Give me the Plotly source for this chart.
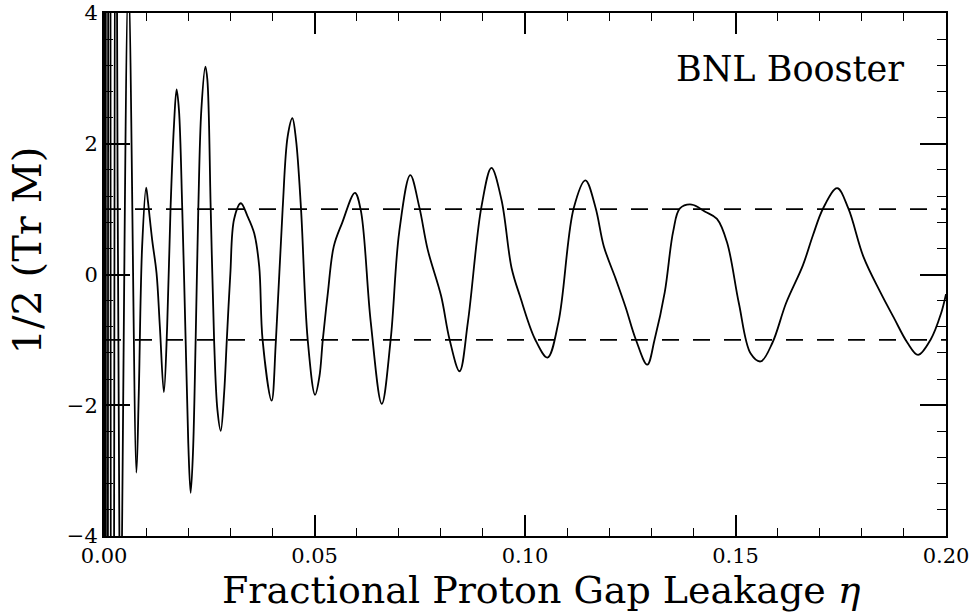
import plotly.graph_objects as go

# Fractional proton gap leakage (eta) and 1/2 Tr M
eta = [0.0000, 0.00030, 0.00060, 0.00124, 0.00191, 0.00286, 0.00381, 0.00579, 0.0077,
       0.00826, 0.00906, 0.01001, 0.0104, 0.01144, 0.01248, 0.01327, 0.01422,
       0.0150, 0.0158, 0.01661, 0.01724, 0.0178, 0.01859, 0.01939, 0.02002, 0.02058, 0.02113,
       0.02177, 0.0224, 0.02312, 0.02408, 0.02455, 0.02535, 0.02615, 0.02694, 0.02773, 0.02853,
       0.02917, 0.0300, 0.03091, 0.0325, 0.0341, 0.03568, 0.03687, 0.03767, 0.03981, 0.04084,
       0.04243, 0.04362, 0.04474, 0.04561, 0.0468, 0.04839, 0.05014, 0.05117, 0.05197, 0.05316,
       0.05458, 0.05657, 0.0596, 0.0610, 0.06335, 0.06598, 0.0681, 0.07012, 0.07275, 0.0749,
       0.07689, 0.08008, 0.08207, 0.08446, 0.08645, 0.08964, 0.09203, 0.09442, 0.09681, 0.0988,
       0.10239, 0.10534, 0.10797, 0.11155, 0.11434, 0.11673, 0.11873, 0.12151, 0.1239, 0.1263,
       0.12904, 0.1308, 0.1332, 0.1352, 0.1368, 0.1396, 0.1428, 0.1456, 0.148, 0.1508,
       0.1536, 0.156, 0.1588, 0.162, 0.166, 0.1684, 0.1708, 0.17416, 0.1768, 0.1804,
       0.1844, 0.1876, 0.1908, 0.19336, 0.1964, 0.1988, 0.2000]
half_trace = [-80, 70, -60, 40, -25, 9, -6, 4.5, -3.03,
              -1.82, 0.43, 1.33, 1.14, 0.53, 0.02, -0.80, -1.80,
              -0.80, 1.0, 2.27, 2.83, 2.52, 1.0, -1.0, -2.58, -3.34, -2.73,
              -1.0, 1.0, 2.52, 3.18, 2.98, 1.0, -1.0, -2.07, -2.39, -1.82,
              -1.0, 0.0, 0.85, 1.09, 0.89, 0.63, 0.12, -1.0, -1.93, -1.0,
              1.0, 2.11, 2.39, 2.06, 1.0, -1.0, -1.84, -1.56, -1.0, -0.29,
              0.43, 0.79, 1.25, 0.98, -0.72, -1.98, -0.99, 0.65, 1.52, 1.03,
              0.38, -0.33, -0.99, -1.48, -0.72, 1.03, 1.63, 1.14, 0.10, -0.33,
              -0.99, -1.27, -0.72, 1.01, 1.44, 1.03, 0.43, -0.06, -0.50, -0.99,
              -1.38, -0.99, -0.27, 0.66, 1.01, 1.07, 0.96, 0.85, 0.49, -0.44,
              -1.21, -1.33, -1.04, -0.44, 0.14, 0.60, 1.01, 1.32, 1.01, 0.27,
              -0.27, -0.66, -1.04, -1.23, -0.99, -0.60, -0.30]

stability_limits = [1, -1]
x_range = [0.0, 0.2]
y_range = [-4, 4]
x_tickvals = [0.00, 0.05, 0.10, 0.15, 0.20]
x_ticktext = ["0.00", "0.05", "0.10", "0.15", "0.20"]
y_tickvals = [-4, -2, 0, 2, 4]
y_ticktext = ["\u22124", "\u22122", "0", "2", "4"]

fig = go.Figure()
for lim in stability_limits:
    fig.add_trace(go.Scatter(x=x_range, y=[lim, lim], mode="lines",
                             line=dict(color="black", width=1.6, dash="17px,14px"),
                             hoverinfo="skip", showlegend=False))
fig.add_trace(go.Scatter(x=eta, y=half_trace, mode="lines",
                         line=dict(color="black", width=1.8, shape="spline", smoothing=1.0),
                         showlegend=False))

tickfont = dict(family="DejaVu Serif", size=21, color="black")
fig.update_xaxes(range=x_range, tickvals=x_tickvals, ticktext=x_ticktext, automargin=False,
                 ticks="inside", ticklen=21, tickwidth=1.6, tickcolor="black",
                 minor=dict(dtick=0.01, tick0=0, ticks="inside", ticklen=8, tickwidth=1.4, tickcolor="black"),
                 showline=True, linewidth=2, linecolor="black", mirror="allticks",
                 showgrid=False, zeroline=False, tickfont=tickfont)
fig.update_yaxes(range=y_range, tickvals=y_tickvals, ticktext=y_ticktext, automargin=False,
                 ticks="inside", ticklen=26, tickwidth=1.6, tickcolor="black",
                 minor=dict(dtick=0.4, tick0=0, ticks="inside", ticklen=9, tickwidth=1.4, tickcolor="black"),
                 showline=True, linewidth=2, linecolor="black", mirror="allticks",
                 showgrid=False, zeroline=False, tickfont=tickfont)

fig.add_annotation(text="Fractional Proton Gap Leakage <i>\u03b7</i>", xref="paper", yref="paper",
                   x=0.52, y=-0.103, xanchor="center", yanchor="middle", showarrow=False,
                   font=dict(family="DejaVu Serif", size=38, color="black"))
fig.add_annotation(text="1/2 (Tr M)", xref="paper", yref="paper",
                   x=-0.092, y=0.545, xanchor="center", yanchor="middle", textangle=-90, showarrow=False,
                   font=dict(family="DejaVu Serif", size=40, color="black"))
fig.add_annotation(text="BNL Booster", xref="paper", yref="paper",
                   x=0.953, y=0.893, xanchor="right", yanchor="middle", showarrow=False,
                   font=dict(family="DejaVu Serif", size=35, color="black"))

fig.update_layout(width=976, height=613, margin=dict(l=104, r=30, t=13, b=77),
                  plot_bgcolor="white", paper_bgcolor="white")
fig.write_html("out.html", config={"displayModeBar": False},
               post_script="document.body.style.margin='0px';document.body.style.overflow='hidden';")
